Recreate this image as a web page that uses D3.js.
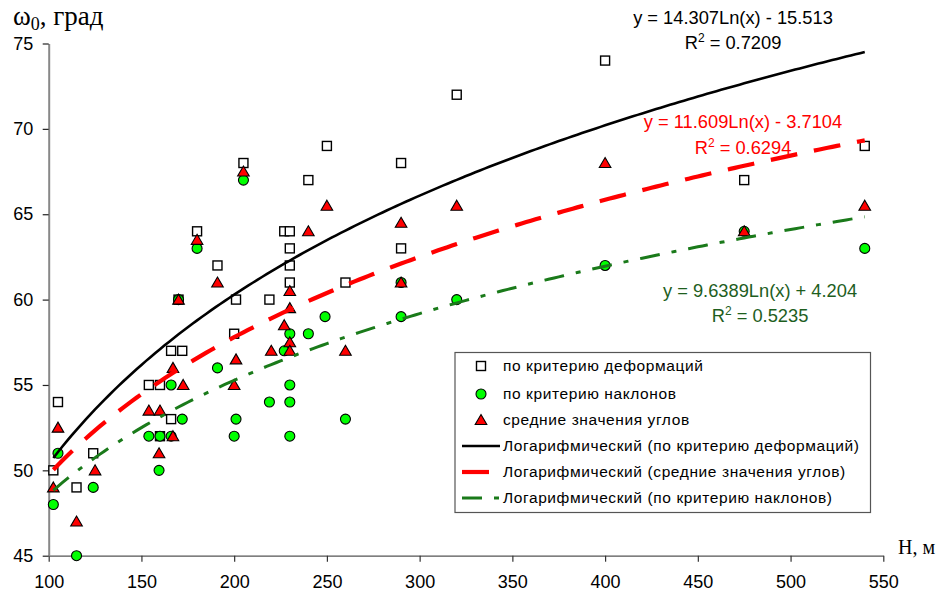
<!DOCTYPE html>
<html><head><meta charset="utf-8">
<script src="https://cdn.jsdelivr.net/npm/d3@7"></script>
<style>body{margin:0;background:#fff}svg{display:block}</style>
</head><body>
<svg id="c" width="941" height="596"></svg>
<script>
// ---- data ----
const hDef = [102.5,105,115,124,154,160,160,166,166,172,170,180,191,200,201,205,219,227,230,230,230,230,240,250,260,290,290,320,400,475,540];
const wDef = [50,54,49,51,55,55,52,53,57,57,60,64,62,58,60,68,60,64,64,63,62,61,67,69,61,68,63,72,74,67,69];
const hTilt = [102.5,105,115,124,154,160,166,159.5,166,172,170,180,191,200,201,205,219,227,230,230,230,230,240,249,260,290,290,320,400,475,540];
const wTilt = [48,51,45,49,52,52,52,50,55,53,60,63,56,52,53,67,54,57,58,55,54,52,58,59,53,61,59,60,62,64,63];
const hMean = [102.5,105,115,125,154,160,159.5,167,167,172.5,170,180,191,200,201,205,220,227,230,230,230,230,240,250,260,290,290,320,400,475,540];
const wMean = [49,52.5,47,50,53.5,53.5,51,52,56,55,60,63.5,61,55,56.5,67.5,57,58.5,60.5,59.5,57.5,57,64,65.5,57,64.5,61,65.5,68,64,65.5];
const xTicks = [100,150,200,250,300,350,400,450,500,550];
const yTicks = [45,50,55,60,65,70,75];
const trendNames = ["Логарифмический (по критерию деформаций)","Логарифмический (средние значения углов)","Логарифмический (по критерию наклонов)"];
const trendA = [14.307, 11.609, 9.6389];
const trendB = [-15.513, -3.7104, 4.204];
const trendR2 = ["0.7209","0.6294","0.5235"];
const trendEq = ["y = 14.307Ln(x) - 15.513","y = 11.609Ln(x) - 3.7104","y = 9.6389Ln(x) + 4.204"];
const seriesNames = ["по критерию деформаций","по критерию наклонов","средние значения углов"];

const svg = d3.select("#c");
const x = d3.scaleLinear().domain([100,550]).range([48.7,883.3]);
const y = d3.scaleLinear().domain([45,75]).range([555.7,43.5]);
const F = "Liberation Sans, Arial, sans-serif";

// axes
const xa = svg.append("g").attr("transform","translate(0,555.7)")
  .call(d3.axisBottom(x).tickValues(xTicks).tickSize(6).tickSizeOuter(0).tickPadding(14));
xa.select(".domain").attr("stroke","#555").attr("stroke-width",1.3);
xa.selectAll(".tick line").attr("stroke","#333").attr("stroke-width",1.2);
xa.selectAll("text").attr("font-family",F).attr("font-size",18).attr("fill","#000");

const ya = svg.append("g").attr("transform","translate(48.7,0)")
  .call(d3.axisLeft(y).tickValues(yTicks).tickSize(6).tickSizeOuter(0).tickPadding(9.5));
ya.select(".domain").attr("stroke","#888").attr("stroke-width",2);
ya.selectAll(".tick line").attr("stroke","#222").attr("stroke-width",1.2);
ya.selectAll("text").attr("font-family",F).attr("font-size",18).attr("fill","#000");

// markers
function square(g,cx,cy){g.append("rect").attr("x",cx-4.5).attr("y",cy-4.5).attr("width",9).attr("height",9).attr("fill","#fff").attr("stroke","#000").attr("stroke-width",1.4);}
function circle(g,cx,cy){g.append("circle").attr("cx",cx).attr("cy",cy).attr("r",5).attr("fill","#00ff00").attr("stroke","#000").attr("stroke-width",1.1);}
function tri(g,cx,cy){g.append("path").attr("d",`M${cx},${cy-5.5}L${cx+5.8},${cy+4.5}L${cx-5.8},${cy+4.5}Z`).attr("fill","#ff0000").attr("stroke","#000").attr("stroke-width",1.1);}

const gp = svg.append("g");
hDef.forEach((h,i)=>square(gp,x(h),y(wDef[i])));
hTilt.forEach((h,i)=>circle(gp,x(h),y(wTilt[i])));
hMean.forEach((h,i)=>tri(gp,x(h),y(wMean[i])));

// trend lines
const styles = [
  {c:"#000",w:2.6,d:null},
  {c:"#ff0000",w:4.2,d:"27,17"},
  {c:"#1a7a1a",w:3,d:"20,12,5,12"}
];
const xs = d3.range(102.5, 540.01, 2.5);
trendA.forEach((a,k)=>{
  const line = d3.line().x(h=>x(h)).y(h=>y(a*Math.log(h)+trendB[k]));
  svg.append("path").attr("d",line(xs)).attr("fill","none")
    .attr("stroke",styles[k].c).attr("stroke-width",styles[k].w)
    .attr("stroke-dasharray",styles[k].d);
});

// equation labels
const eqPos = [[733,23.5],[743,128],[760,296.5]];
const eqCol = ["#000","#ff0000","#1e5e1e"];
trendEq.forEach((t,k)=>{
  svg.append("text").attr("x",eqPos[k][0]).attr("y",eqPos[k][1]).attr("text-anchor","middle")
    .attr("font-family",F).attr("font-size",18.3).attr("fill",eqCol[k]).text(t);
  const r = svg.append("text").attr("x",eqPos[k][0]).attr("y",eqPos[k][1]+25.5).attr("text-anchor","middle")
    .attr("font-family",F).attr("font-size",18.3).attr("fill",eqCol[k]);
  r.append("tspan").text("R");
  r.append("tspan").attr("dy",-7).attr("font-size",12).text("2");
  r.append("tspan").attr("dy",7).text(" = "+trendR2[k]);
});

// legend
const lg = svg.append("g");
lg.append("rect").attr("x",455).attr("y",352.5).attr("width",415.5).attr("height",160).attr("fill","#fff").attr("stroke","#555").attr("stroke-width",1.2);
const rows = [366,394,420,446,472,498];
const labels = seriesNames.concat(trendNames);
square(lg,481,rows[0]); circle(lg,481,rows[1]); tri(lg,481,rows[2]);
[0,1,2].forEach(k=>{
  lg.append("line").attr("x1",462).attr("x2",500).attr("y1",rows[3+k]).attr("y2",rows[3+k])
    .attr("stroke",styles[k].c).attr("stroke-width",styles[k].w).attr("stroke-dasharray",styles[k].d);
});
labels.forEach((t,i)=>{
  lg.append("text").attr("x",503).attr("y",rows[i]+5).attr("font-family",F).attr("font-size",15.5)
    .attr("letter-spacing",0.6).attr("fill","#000").text(t);
});

// axis titles
const T = "Liberation Serif, 'Times New Roman', serif";
const yt = svg.append("text").attr("x",13).attr("y",25).attr("font-family",T).attr("font-size",27).attr("fill","#000");
yt.append("tspan").text("ω");
yt.append("tspan").attr("dy",5).attr("font-size",18).text("0");
yt.append("tspan").attr("dy",-5).text(", град");
svg.append("text").attr("x",898).attr("y",554).attr("font-family",T).attr("font-size",20).attr("fill","#000").text("Н, м");
</script>
</body></html>
